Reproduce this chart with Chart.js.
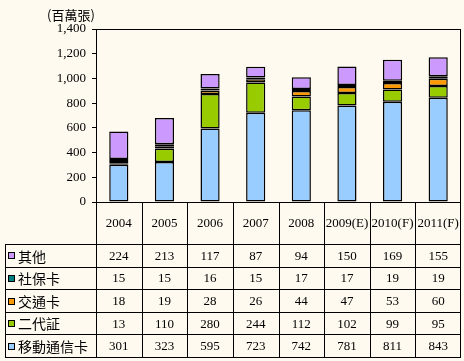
<!DOCTYPE html>
<html>
<head>
<meta charset="utf-8">
<script src="https://cdn.jsdelivr.net/npm/chart.js@4/dist/chart.umd.min.js"></script>
<style>
  html, body { margin: 0; padding: 0; background: #fffaf0; }
  #wrap { width: 464px; height: 361px; position: relative; }
</style>
</head>
<body>
<div id="wrap"><canvas id="chart" width="464" height="361"></canvas></div>
<script>
// data
const years = ["2004", "2005", "2006", "2007", "2008", "2009(E)", "2010(F)", "2011(F)"];
const mobileCard = [301, 323, 595, 723, 742, 781, 811, 843];
const idCard = [13, 110, 280, 244, 112, 102, 99, 95];
const transitCard = [18, 19, 28, 26, 44, 47, 53, 60];
const socialCard = [15, 15, 16, 15, 17, 17, 19, 19];
const otherCard = [224, 213, 117, 87, 94, 150, 169, 155];
const yTicks = [0, 200, 400, 600, 800, 1000, 1200, 1400];

const seriesNames = ["移動通信卡", "二代証", "交通卡", "社保卡", "其他"];
const seriesColors = ["#99ccff", "#99cc00", "#ff9900", "#008080", "#cc99ff"];
const seriesData = [mobileCard, idCard, transitCard, socialCard, otherCard];

const numFont = '13px "Liberation Serif", serif';
const cjkFont = '14px "Noto Sans CJK TC", sans-serif';

// table under the plot, rows listed top to bottom
const tablePlugin = {
  id: "dataTable",
  afterDraw(chart) {
    const ctx = chart.ctx;
    const area = chart.chartArea;
    const x = chart.scales.x;
    const headerBottom = 244;
    const rowH = 22.6;
    const tableBottom = headerBottom + rowH * 5;
    const left = 5;

    ctx.save();
    ctx.strokeStyle = "#000";
    ctx.lineWidth = 1;

    // plot border
    ctx.strokeRect(Math.round(area.left) + 0.5, Math.round(area.top) + 0.5,
      Math.round(area.right - area.left) - 1, Math.round(area.bottom - area.top));

    // column borders
    const half = (x.getPixelForValue(1) - x.getPixelForValue(0)) / 2;
    ctx.beginPath();
    for (let i = 0; i <= years.length; i++) {
      const px = Math.round(x.getPixelForValue(i) - half) + 0.5;
      const xx = i === years.length ? Math.round(area.right) - 0.5 : px;
      ctx.moveTo(xx, area.bottom);
      ctx.lineTo(xx, tableBottom);
    }
    ctx.moveTo(left + 0.5, headerBottom);
    ctx.lineTo(left + 0.5, tableBottom);
    for (let r = 0; r <= 5; r++) {
      const yy = Math.round(headerBottom + r * rowH) + 0.5;
      ctx.moveTo(left, yy);
      ctx.lineTo(area.right, yy);
    }
    ctx.stroke();

    // header years
    ctx.fillStyle = "#000";
    ctx.textAlign = "center";
    ctx.textBaseline = "middle";
    ctx.font = numFont;
    years.forEach((y, i) => {
      ctx.fillText(y, x.getPixelForValue(i), (area.bottom + headerBottom) / 2 + 1);
    });

    // rows: top row is the last series
    for (let r = 0; r < 5; r++) {
      const s = 4 - r;
      const cy = headerBottom + r * rowH + rowH / 2;
      ctx.fillStyle = seriesColors[s];
      ctx.fillRect(8, Math.round(cy) - 3, 6, 6);
      ctx.strokeRect(8.5, Math.round(cy) - 2.5, 6, 6);
      ctx.fillStyle = "#000";
      ctx.textAlign = "left";
      ctx.font = cjkFont;
      ctx.fillText(seriesNames[s], 18, cy + 1);
      ctx.textAlign = "center";
      ctx.font = numFont;
      seriesData[s].forEach((v, i) => {
        ctx.fillText(String(v), x.getPixelForValue(i), cy + 1);
      });
    }

    // axis unit
    ctx.font = '13px "Noto Sans CJK TC", sans-serif';
    ctx.textAlign = "center";
    ctx.fillText("(百萬張)", 71, 15);
    ctx.restore();
  }
};

new Chart(document.getElementById("chart").getContext("2d"), {
  type: "bar",
  data: {
    labels: years,
    datasets: seriesNames.map((name, i) => ({
      label: name,
      data: seriesData[i],
      backgroundColor: seriesColors[i],
      borderColor: "#000",
      borderWidth: 1.5,
      borderSkipped: false,
      inflateAmount: 0,
      barPercentage: 0.42,
      categoryPercentage: 1
    }))
  },
  options: {
    responsive: false,
    animation: false,
    layout: { padding: { left: 0, top: 29, right: 3, bottom: 159 } },
    plugins: { legend: { display: false }, tooltip: { enabled: false } },
    scales: {
      x: { stacked: true, display: false },
      y: {
        stacked: true,
        min: 0,
        max: 1400,
        afterBuildTicks: (s) => { s.ticks = yTicks.map((v) => ({ value: v })); },
        afterFit: (s) => { s.width = 96; },
        grid: { drawOnChartArea: false, color: "#000", tickLength: 4 },
        border: { color: "#000" },
        ticks: {
          color: "#000",
          padding: 6,
          font: { family: '"Liberation Serif", serif', size: 13 },
          callback: (v) => v.toLocaleString("en-US")
        }
      }
    }
  },
  plugins: [tablePlugin]
});
</script>
</body>
</html>
